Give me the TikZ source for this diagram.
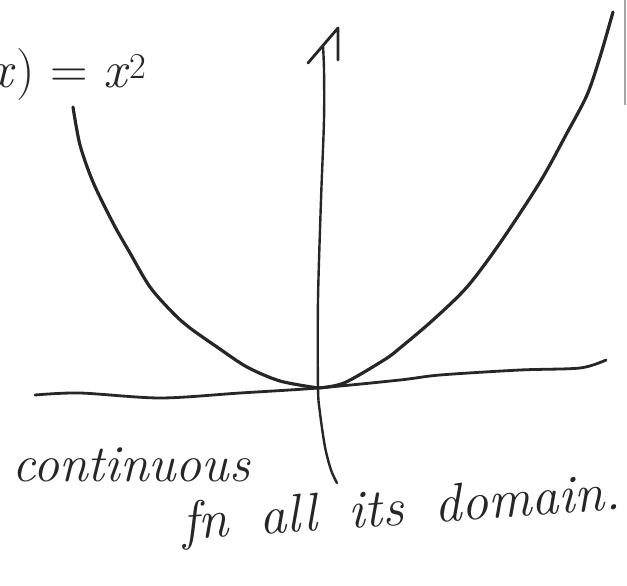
\documentclass[tikz,border=0pt]{standalone}
\usepackage{amsmath}
\usetikzlibrary{positioning}

\tikzset{
  ink/.style={line width=3.2pt,line cap=round,line join=round,black!85},
  scrawl/.style={inner sep=0pt,black!85,font=\fontsize{52}{60}\selectfont\itshape}
}
\newcommand{\gap}{\hspace{0.58em}}

\begin{document}
\begin{tikzpicture}[x=1pt,y=-1pt]
            \useasboundingbox (0,0) rectangle (627,586);
            \clip (0,0) rectangle (627,586);
            % Points
            \coordinate (vertex) at (318,388);
            \coordinate (apex) at (338,28);
            \coordinate (axisfoot) at (337,483);
            
            % Horizontal axis
            \draw[ink,line width=2.8pt] plot[smooth] coordinates {(35,395) (80,393) (160,398) (240,393) (vertex) (400,380) (440,375) (520,370) (580,368) (606,360)};
            
            % Vertical axis with its arrow
            \draw[ink,line width=2.4pt] plot[smooth] coordinates {(axisfoot) (331,470) (325,447) (320,413) (vertex) (318,300) (321,200) (324,120) (324,70) (323,46)};
            \draw[ink,line width=2.8pt] (308,63) -- (apex) -- (338,60);
            
            % Parabola
            \draw[ink] plot[smooth] coordinates {(73,107) (80,145) (93,182) (113,223) (130,253) (150,287) (173,313) (190,328) (217,347) (247,367) (280,381) (vertex)};
            \draw[ink] plot[smooth] coordinates {(vertex) (344,383) (384,360) (400,348) (433,320) (467,287) (500,243) (540,182) (567,133) (587,95) (600,57) (613,12)};
            
            % Edge of the sheet
            \draw[gray!70,line width=2pt] (625,0) -- (625,105);
            
            % Labels
            \node[scrawl,font=\fontsize{52}{60}\selectfont,anchor=base east] (rule) at (147,88) {\textit{x}) = \textit{x}\textsuperscript{2}};
            \node[scrawl,anchor=base west] (cont) at (12,481) {continuous};
            \node[scrawl,font=\fontsize{54}{64}\selectfont\itshape,anchor=base west,rotate=4] (dom) at (183,540) {fn\gap all\gap its\gap domain.};
\end{tikzpicture}
\end{document}
